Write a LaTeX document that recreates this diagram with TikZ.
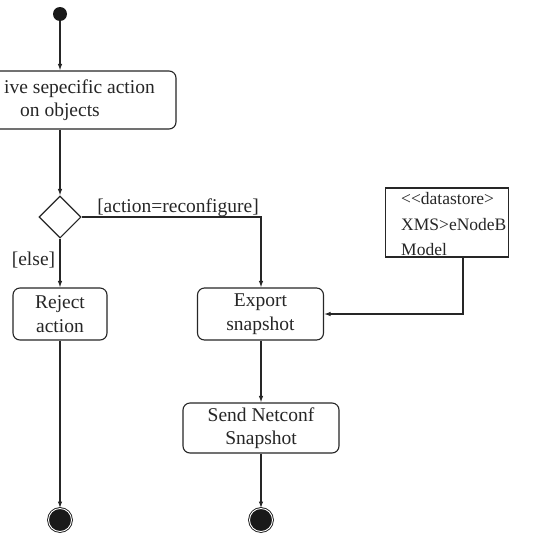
\documentclass[tikz,border=0pt]{standalone}
\usepackage{fontspec}
\setmainfont{Liberation Serif}
\usetikzlibrary{shapes.geometric,arrows.meta}

\begin{document}
\begin{tikzpicture}[x=1pt,y=-1pt,
  txt/.style={font=\fontsize{19.5}{23.4}\selectfont, text=black!85},
  dstxt/.style={font=\fontsize{17.5}{21}\selectfont, text=black!85, anchor=base west, inner sep=0pt},
  line/.style={draw=black!85, line width=1.1pt},
  flow/.style={line, -{Latex[length=6.5pt,width=4.5pt]}},
  act/.style={line, txt, rounded corners=7pt, align=center, inner sep=0pt, fill=white},
  dsbox/.style={line, rectangle, inner sep=0pt, fill=white, minimum width=123pt, minimum height=69pt},
  dec/.style={line, diamond, aspect=1, inner sep=0pt, minimum width=42pt, minimum height=42pt, fill=white},
  initial/.style={circle, fill=black!90, inner sep=0pt, minimum size=14pt},
  final/.style={circle, draw=black!90, line width=0.9pt, fill=black!90, double=white, double distance=0.9pt, inner sep=0pt, minimum size=23pt}
]
\useasboundingbox (0,0) rectangle (545,533);

% activity nodes
\node[initial] (start) at (60,14) {};
\node[act, minimum width=232pt, minimum height=58pt] (recv) at (60,100)
  {\phantom{Rece}ive sepecific action\\on objects};
\node[dec] (choice) at (60,217) {};
\node[act, minimum width=94pt, minimum height=52pt] (reject) at (60,314) {Reject\\action};
\node[act, minimum width=126pt, minimum height=52pt] (export) at (260.5,314) {Export\\snapshot};
\node[act, minimum width=156pt, minimum height=50pt] (send) at (261,428) {Send Netconf\\Snapshot};
\node[final] (end1) at (60,520) {};
\node[final] (end2) at (261,520) {};

% data store object
\node[dsbox] (ds) at (447,222.5) {};
\node[dstxt] (ds1) at (401,204) {<{}<datastore>};
\node[dstxt] (ds2) at (401,230) {XMS>eNodeB};
\node[dstxt] (ds3) at (401,255) {Model};

% guards
\node[txt, anchor=base, inner sep=0pt] (g1) at (178,212) {[action=reconfigure]};
\node[txt, anchor=base, inner sep=0pt] (g2) at (33.5,265) {[else]};

% control flow
\draw[flow] (start) -- (recv);
\draw[flow] (recv) -- (choice);
\draw[flow] (choice) -- (reject);
\draw[flow] (choice.east) -| (export.north -| 261,0);
\draw[flow] (reject) -- (end1);
\draw[flow] (export.south -| 261,0) -- (send.north);
\draw[flow] (send) -- (end2);
\draw[flow] ([xshift=16pt]ds.south) |- (export.east);
\end{tikzpicture}
\end{document}
